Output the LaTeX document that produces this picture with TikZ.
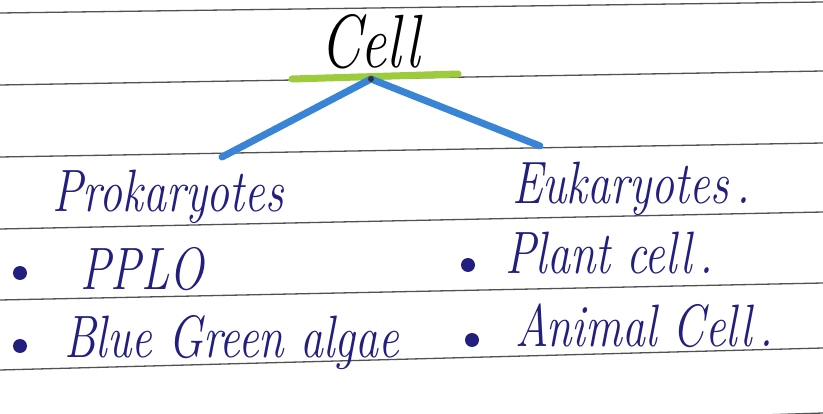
\documentclass[tikz,border=0pt]{standalone}
\usepackage{fontspec}
\begin{document}
\begin{tikzpicture}[x=1pt,y=-1pt,
  rule/.style={draw=black!68, line width=1.3pt},
  ink/.style={text=inkblue, inner sep=0pt, anchor=base west,
    font=\fontsize{46}{50}\selectfont\itshape\addfontfeatures{FakeBold=1.6},
    yscale=1.3, transform shape},
  dot/.style={circle, fill=inkblue, inner sep=0pt, minimum size=14pt},
  branch/.style={draw=branchblue, line width=7pt, line cap=round},
  underline/.style={draw=limegreen, line width=7pt, line cap=round}]
\definecolor{inkblue}{HTML}{231F7E}
\definecolor{branchblue}{HTML}{3A84D6}
\definecolor{limegreen}{HTML}{9CCB3B}

\useasboundingbox (0,0) rectangle (823,414);
\clip (0,0) rectangle (823,414);
\fill[white] (0,0) rectangle (823,414);

% ruled notebook lines
\draw[rule] (0,13)  -- (823,2);
\draw[rule] (0,85)  -- (823,71);
\draw[rule] (0,157) -- (823,143);
\draw[rule] (0,229) -- (823,212);
\draw[rule] (0,300) -- (823,283);
\draw[rule] (0,370) -- (823,348);
\draw[rule] (0,440) -- (823,413);

% heading
\node[ink, text=black,
  font=\fontsize{58}{62}\selectfont\itshape\addfontfeatures{FakeBold=1.6}]
  (cell) at (320,68) {Cell};
\draw[underline] (292,79) -- (458,74);

% branches
\coordinate (apex) at (371,79);
\coordinate (lend) at (222,157);
\coordinate (rend) at (540,146);
\draw[branch] (apex) -- (lend);
\draw[branch] (apex) -- (rend);
\fill[black!80] (apex) circle (3pt);

% the two groups
\node[ink] (pro) at (52,212) {Prokaryotes};
\node[ink] (euk) at (512,204) {Eukaryotes\,.};

% bullet items
\node[dot] (b1) at (20,273) {};
\node[ink] (pplo) at (80,290) {PPLO};
\node[dot] (b2) at (20,346) {};
\node[ink] (bga) at (64,358) {Blue Green algae};

\node[dot] (b3) at (468,265) {};
\node[ink] (plant) at (505,274) {Plant cell\,.};
\node[dot] (b4) at (472,340) {};
\node[ink] (animal) at (515,347) {Animal Cell\,.};
\end{tikzpicture}
\end{document}
